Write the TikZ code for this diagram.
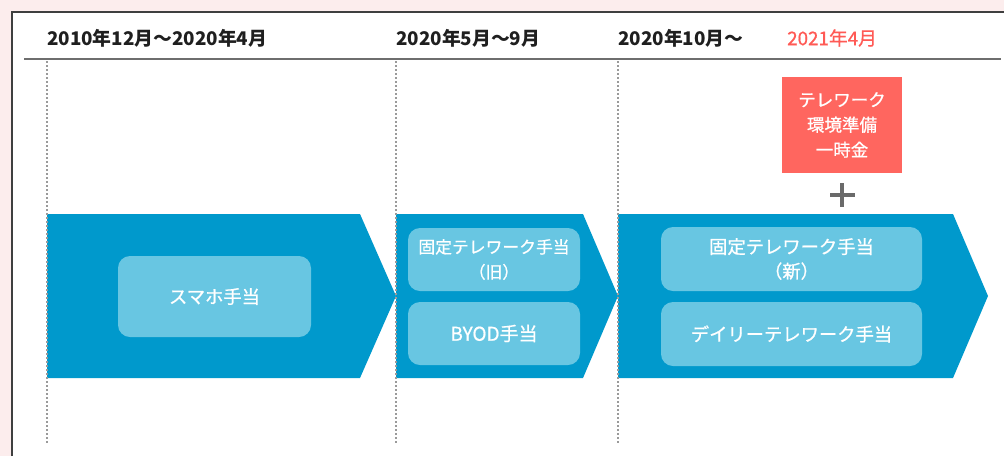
\documentclass[tikz,border=0pt]{standalone}
\usepackage{fontspec}
\setmainfont{Noto Sans CJK JP}
\newfontfamily\medfont{Noto Sans CJK JP}[FakeBold=0.8]
\definecolor{bgpink}{HTML}{FCEDED}
\definecolor{framegray}{HTML}{3F3F3F}
\definecolor{linegray}{HTML}{6E6E6E}
\definecolor{dotgray}{HTML}{9A9A9A}
\definecolor{chev}{HTML}{0099CC}
\definecolor{inner}{HTML}{68C6E2}
\definecolor{redbox}{HTML}{FF665F}
\definecolor{redtxt}{HTML}{FF5A55}
\definecolor{plusgray}{HTML}{6A6A6A}
\begin{document}
\begin{tikzpicture}[x=1pt,y=-1pt,
  hdr/.style={anchor=west,font=\fontsize{18.8}{20}\selectfont\bfseries,text=black!88,inner sep=0pt},
  innerbox/.style={fill=inner,rounded corners=12pt,text=white,align=center,
     font=\fontsize{18.3}{24.5}\selectfont\medfont,inner sep=0pt},
  chevron/.style={fill=chev},
  dotline/.style={dotgray,line width=1.3pt,dash pattern=on 2pt off 2pt}]
\useasboundingbox (0,0) rectangle (1004,456);
\fill[bgpink] (0,0) rectangle (1004,456);
\fill[white] (12,12) rectangle (1004,456);
\draw[framegray,line width=1.6pt] (12,456) -- (12,12) -- (1004,12);
% header
\draw[linegray,line width=2pt] (24,59) -- (1001,59);
\node[hdr] (h1) at (47,38) {2010年12月～2020年4月};
\node[hdr] (h2) at (396,38) {2020年5月～9月};
\node[hdr] (h3) at (618,38) {2020年10月～};
\node[hdr,text=redtxt,font=\fontsize{18.8}{20}\selectfont\medfont] (h4) at (787,38) {2021年4月};
% chevrons
\fill[chevron] (47,214) -- (360,214) -- (396,296) -- (360,378) -- (47,378) -- cycle;
\fill[chevron] (396,214) -- (583,214) -- (618,296) -- (583,378) -- (396,378) -- cycle;
\fill[chevron] (618,214) -- (953,214) -- (988,296) -- (953,378) -- (618,378) -- cycle;
% dotted lines
\draw[dotline] (47,61) -- (47,444);
\draw[dotline] (396,61) -- (396,444);
\draw[dotline] (618,61) -- (618,444);
% inner boxes
\node[innerbox,minimum width=193pt,minimum height=81pt] (b1) at (214.5,296.5) {スマホ手当};
\node[innerbox,minimum width=172pt,minimum height=63pt,
  font=\fontsize{16.8}{25}\selectfont\medfont] (b2) at (494,259.5) {固定テレワーク手当\\（旧）};
\node[innerbox,minimum width=172pt,minimum height=63pt,
  font=\fontsize{19}{24}\selectfont\medfont] (b3) at (494,333.5) {BYOD手当};
\node[innerbox,minimum width=261pt,minimum height=64pt] (b4) at (791.5,259) {固定テレワーク手当\\（新）};
\node[innerbox,minimum width=261pt,minimum height=64pt] (b5) at (791.5,334) {デイリーテレワーク手当};
% red box
\node[fill=redbox,text=white,align=center,font=\fontsize{17.5}{25}\selectfont\medfont,
  minimum width=120pt,minimum height=96pt,inner sep=0pt] (r) at (842,125) {テレワーク\\環境準備\\一時金};
% plus
\coordinate (p) at (842,195);
\fill[plusgray] ([xshift=-12.5pt,yshift=2pt]p) rectangle ([xshift=12.5pt,yshift=-2pt]p);
\fill[plusgray] ([xshift=-2pt,yshift=12pt]p) rectangle ([xshift=2pt,yshift=-12pt]p);
\end{tikzpicture}
\end{document}
